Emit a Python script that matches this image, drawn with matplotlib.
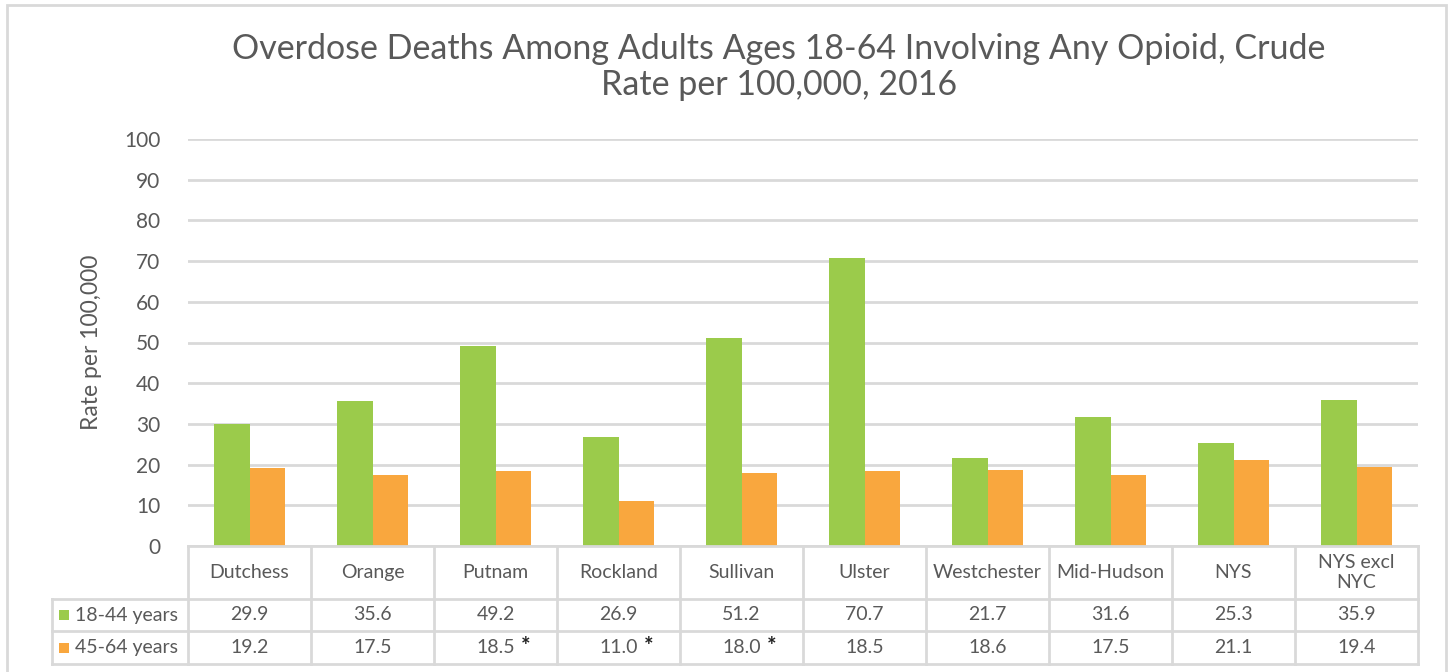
import matplotlib.pyplot as plt
import matplotlib.transforms as mtransforms
from matplotlib.patches import Rectangle
import numpy as np

plt.rcParams['font.family'] = ['Lato', 'DejaVu Sans']

# data
regions = ['Dutchess', 'Orange', 'Putnam', 'Rockland', 'Sullivan', 'Ulster',
           'Westchester', 'Mid-Hudson', 'NYS', 'NYS excl\nNYC']
series_names = ['18-44 years', '45-64 years']
age_18_44 = [29.9, 35.6, 49.2, 26.9, 51.2, 70.7, 21.7, 31.6, 25.3, 35.9]
age_45_64 = [19.2, 17.5, 18.5, 11.0, 18.0, 18.5, 18.6, 17.5, 21.1, 19.4]
flag_45_64 = [False, False, True, True, True, False, False, False, False, False]

green = '#9BCB4B'
orange = '#F9A73E'
grid_c = '#D9D9D9'
txt_c = '#595959'

W, H = 1450, 672
fig = plt.figure(figsize=(W / 100, H / 100), dpi=100)

# outer chart border
fig.patches.append(Rectangle((7 / W, -0.05), (1446 - 7) / W, 1.05 - 5 / H,
                             transform=fig.transFigure, fill=False,
                             edgecolor=grid_c, linewidth=2))

px0, px1 = 188, 1418
py0, py100 = 546, 139
ax = fig.add_axes([px0 / W, 1 - py0 / H, (px1 - px0) / W, (py0 - py100) / H])

x = np.arange(len(regions))
bw = 0.285
ax.bar(x - bw / 2, age_18_44, bw, color=green, zorder=3)
ax.bar(x + bw / 2, age_45_64, bw, color=orange, zorder=3)

ax.set_xlim(-0.5, len(regions) - 0.5)
ax.set_ylim(0, 100)
ax.set_yticks(np.arange(0, 101, 10))
ax.yaxis.grid(True, color=grid_c, linewidth=2)
ax.set_axisbelow(True)
ax.set_xticks([])
ax.tick_params(axis='y', length=0, pad=20, labelsize=15, labelcolor=txt_c)
for s in ax.spines.values():
    s.set_visible(False)
ax.set_ylabel('Rate per 100,000', fontsize=16.5, color=txt_c, labelpad=16)

fig.text(779 / W, 1 - 67 / H, 'Overdose Deaths Among Adults Ages 18-64 Involving Any Opioid, Crude\nRate per 100,000, 2016',
         ha='center', va='center', fontsize=24.5, color=txt_c, linespacing=1.15)

# data table below the axis
def fy(p):
    return 1 - p / H

def fx(p):
    return p / W

tr = fig.transFigure
rows_y = [546, 599, 631, 664]
lw = 2
# horizontal lines
fig.add_artist(plt.Line2D([fx(px0), fx(px1)], [fy(546), fy(546)], transform=tr, color=grid_c, lw=lw))
for yy in rows_y[1:]:
    fig.add_artist(plt.Line2D([fx(52), fx(px1)], [fy(yy), fy(yy)], transform=tr, color=grid_c, lw=lw))
# vertical lines
fig.add_artist(plt.Line2D([fx(52), fx(52)], [fy(599), fy(664)], transform=tr, color=grid_c, lw=lw))
colw = (px1 - px0) / len(regions)
for i in range(len(regions) + 1):
    xx = px0 + i * colw
    fig.add_artist(plt.Line2D([fx(xx), fx(xx)], [fy(546), fy(664)], transform=tr, color=grid_c, lw=lw))

fs = 14
blend = mtransforms.blended_transform_factory(ax.transData, tr)
for i, name in enumerate(regions):
    ax.text(i, fy((546 + 599) / 2), name, transform=blend, ha='center', va='center',
            fontsize=fs, color=txt_c, linespacing=1.15, clip_on=False)
    ax.text(i, fy((599 + 631) / 2), f'{age_18_44[i]:.1f}', transform=blend, ha='center',
            va='center', fontsize=fs, color=txt_c, clip_on=False)
    ax.text(i, fy((631 + 664) / 2), f'{age_45_64[i]:.1f}', transform=blend, ha='center',
            va='center', fontsize=fs, color=txt_c, clip_on=False)
    if flag_45_64[i]:
        ax.text(i + 30 / colw, fy((631 + 664) / 2 - 1), '*', transform=blend, ha='center',
                va='center', fontsize=16, fontweight='bold', color='#222222', clip_on=False)

# legend keys in table rows
for yy, col, name in zip([(599 + 631) / 2, (631 + 664) / 2], [green, orange], series_names):
    fig.patches.append(Rectangle((fx(59), fy(yy + 5)), 10 / W, 10 / H, transform=tr,
                                 facecolor=col, edgecolor='none'))
    fig.text(fx(75), fy(yy), name, ha='left', va='center', fontsize=fs, color=txt_c)

fig.savefig('out.png', dpi=100)
